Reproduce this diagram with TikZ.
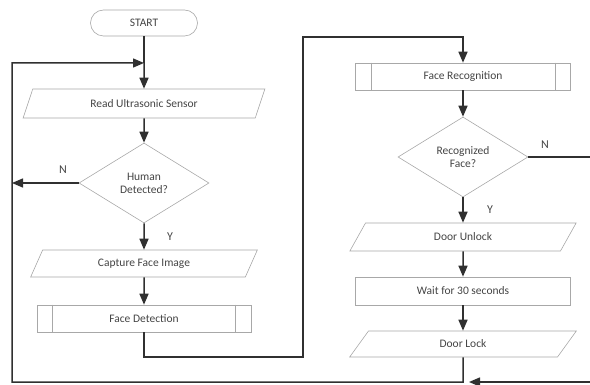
\documentclass[tikz,border=0pt]{standalone}
\usepackage{fontspec}
\setmainfont{Carlito}
\usetikzlibrary{shapes.geometric,arrows.meta}
\definecolor{boxgray}{HTML}{A8A8A8}
\definecolor{txtgray}{HTML}{444444}
\definecolor{flowgray}{HTML}{303030}

\begin{document}
\begin{tikzpicture}[x=1pt, y=-1pt, >={Triangle[length=11pt,width=9pt]},
  box/.style={draw=boxgray, line width=0.6pt, text=txtgray, inner sep=0pt,
    font=\fontsize{11.5}{13}\selectfont, align=center},
  procbox/.style={box, rectangle, minimum width=215pt, minimum height=27pt},
  iobox/.style={box, trapezium, trapezium left angle=60, trapezium right angle=120,
    trapezium stretches=true, minimum width=227pt, minimum height=27pt},
  decide/.style={box, diamond, minimum width=130pt, minimum height=80pt},
  flow/.style={draw=flowgray, line width=1.5pt},
  yn/.style={text=txtgray, font=\fontsize{12}{13}\selectfont}]

\useasboundingbox (0,0) rectangle (590,385);

% left column
\node[box, rectangle, rounded corners=13pt, minimum width=107pt, minimum height=26pt] (start) at (144,23) {START};
\node[iobox, minimum width=242pt, minimum height=29pt] (readsensor) at (144,103.5) {Read Ultrasonic Sensor};
\node[decide] (human) at (144,183) {Human\\Detected?};
\node[iobox] (capture) at (144,263.5) {Capture Face Image};
\node[procbox, minimum width=214pt] (facedet) at (144,318.5) {Face Detection};

% right column
\node[procbox] (facerec) at (463,76.5) {Face Recognition};
\node[decide] (recog) at (463,157) {Recognized\\Face?};
\node[iobox, minimum height=28pt] (unlock) at (463,237) {Door Unlock};
\node[procbox, minimum height=28pt] (wait) at (463,291) {Wait for 30 seconds};
\node[iobox, minimum height=26pt] (lock) at (463,344) {Door Lock};

% side bars of the predefined processes
\foreach \n in {facedet, facerec}
{
\draw[boxgray, line width=0.6pt] ([xshift=16pt]\n.north west) -- ([xshift=16pt]\n.south west);
\draw[boxgray, line width=0.6pt] ([xshift=-16pt]\n.north east) -- ([xshift=-16pt]\n.south east);
}

% corners of the connectors
\coordinate (join) at (144,63);
\coordinate (loopup) at (12,63);
\coordinate (loopdown) at (12,382);
\coordinate (nleft) at (12,183);
\coordinate (crossbot) at (303,357);
\coordinate (crosstop) at (303,37);
\coordinate (nright) at (597,157);
\coordinate (rightbot) at (597,382);
\coordinate (merge) at (463,382);

\draw[flow] (start) -- (join);
\draw[flow,->] (join) -- (readsensor);
\draw[flow,->] (readsensor) -- (human);
\draw[flow,->] (human.west) -- (nleft);
\draw[flow,->] (human) -- (capture);
\draw[flow,->] (capture) -- (facedet);
\draw[flow,->] (facedet.south) |- (crossbot) -- (crosstop) -| (facerec.north);
\draw[flow,->] (facerec) -- (recog);
\draw[flow,->] (recog) -- (unlock);
\draw[flow,->] (unlock) -- (wait);
\draw[flow,->] (wait) -- (lock);
\draw[flow,->] (recog.east) -- (nright) -- (rightbot) -- ([xshift=6pt]merge);
\draw[flow,->] (lock.south) -- (merge) -- (loopdown) -- (loopup) -- (join);

% branch labels
\node[yn] (hn) at (63,170) {N};
\node[yn] (hy) at (170,237) {Y};
\node[yn] (rn) at (545,145) {N};
\node[yn] (ry) at (490,210) {Y};

\end{tikzpicture}
\end{document}
